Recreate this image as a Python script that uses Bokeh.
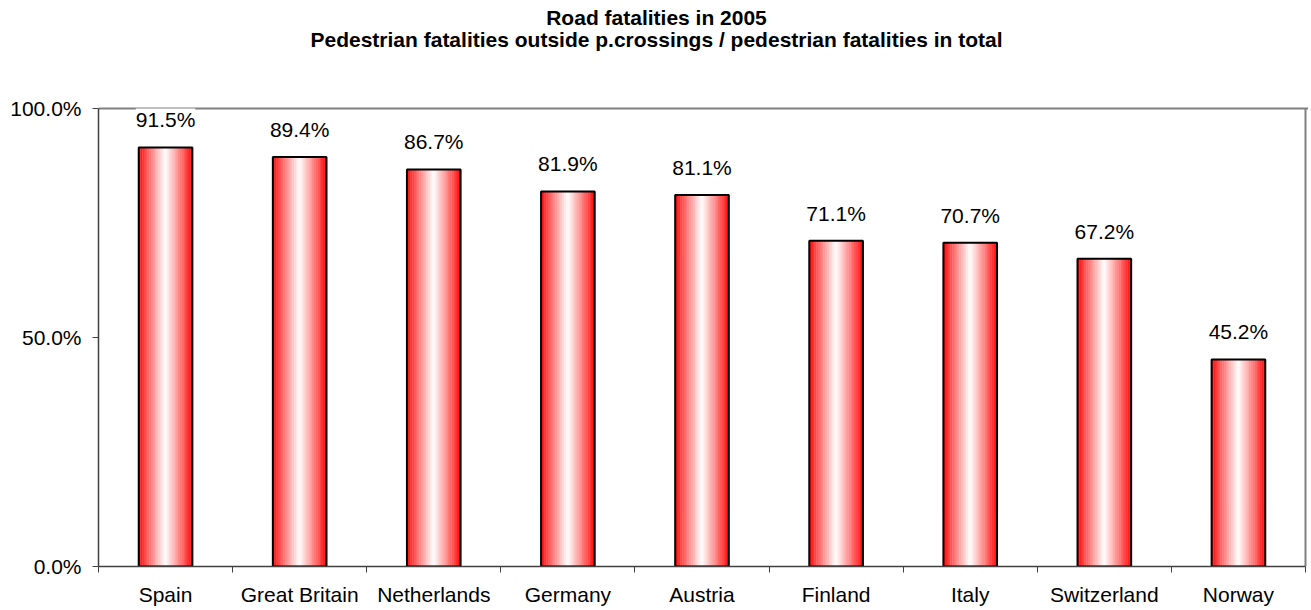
import numpy as np
from bokeh.plotting import figure
from bokeh.core.properties import value
from bokeh.models import ColumnDataSource, FixedTicker, LabelSet, Label, Range1d
from bokeh.embed import file_html
from bokeh.resources import INLINE

# ---- data ----
countries = ["Spain", "Great Britain", "Netherlands", "Germany", "Austria",
             "Finland", "Italy", "Switzerland", "Norway"]
values = [91.5, 89.4, 86.7, 81.9, 81.1, 71.1, 70.7, 67.2, 45.2]
value_labels = [f"{v:.1f}%" for v in values]
y_ticks = [0, 50, 100]
y_tick_labels = ["0.0%", "50.0%", "100.0%"]
title_line1 = "Road fatalities in 2005"
title_line2 = "Pedestrian fatalities outside p.crossings / pedestrian fatalities in total"

FONT = "Liberation Sans"
n = len(countries)
pos = np.arange(1, n + 1)

# geometry (pixels)
LEFT = 98            # y-axis position
AX_BOTTOM = 566      # y = 0
AX_TOP = 108         # y = 100
CELL = (1305 - LEFT) / n
PPU = (AX_BOTTOM - AX_TOP) / 100.0   # pixels per y unit
y_max = AX_BOTTOM / PPU              # frame reaches the top of the page
x_extra = 3 / CELL
FW = int(round(CELL * n + 3))
FH = AX_BOTTOM

p = figure(frame_width=FW, frame_height=FH,
           x_range=Range1d(0.5, n + 0.5 + x_extra), y_range=Range1d(0, y_max),
           output_backend="svg", toolbar_location=None,
           min_border_left=LEFT, min_border_top=0, min_border_right=0,
           min_border_bottom=0, outline_line_color=None,
           background_fill_color="white", border_fill_color="white")

# gridline at top of value axis + right border
p.xgrid.visible = False
p.ygrid.ticker = FixedTicker(ticks=[y_ticks[-1]])
p.ygrid.grid_line_color = "#808080"
p.ygrid.grid_line_width = 2
p.segment(x0=[n + 0.5], y0=[y_ticks[0]], x1=[n + 0.5], y1=[y_ticks[-1]],
          line_color="#808080", line_width=2)

# gradient bars built from vertical stripes
bw = 0.4
N = 30
edges = np.linspace(-bw / 2, bw / 2, N + 1)
centers = (edges[:-1] + edges[1:]) / 2
sw = bw / N
xs, tops, cols = [], [], []
for c in centers:
    t = abs(c) / (bw / 2)
    g = int(round(255 * (1 - t) ** 0.9))
    color = f"#ff{g:02x}{g:02x}"
    for i, v in enumerate(values):
        xs.append(pos[i] + c)
        tops.append(v)
        cols.append(color)
p.vbar(x=xs, top=tops, bottom=0, width=sw * 1.2, fill_color=cols, line_color=None)

src = ColumnDataSource(dict(x=pos, top=values, label=value_labels))
p.vbar(x="x", top="top", bottom=0, width=bw, source=src,
       fill_color=None, line_color="black", line_width=2)

p.add_layout(LabelSet(x="x", y="top", text="label", source=src,
                      text_align="center", text_baseline="alphabetic",
                      y_offset=20, text_font_size=value("21px"),
                      text_font=value(FONT), text_color="black",
                      background_fill_color="white"))

# axes
ax = p.xaxis[0]
ax.ticker = FixedTicker(ticks=[int(x) for x in pos],
                        minor_ticks=list(np.arange(0.5, n + 1, 1.0)))
ax.major_label_overrides = {int(x): c for x, c in zip(pos, countries)}
ax.major_tick_in = 0
ax.major_tick_out = 0
ax.minor_tick_in = 0
ax.minor_tick_out = 6
ax.minor_tick_line_color = "#404040"
ax.axis_line_color = "#404040"
ax.axis_line_width = 1.5
ax.bounds = (0.5, n + 0.5)
ax.major_label_standoff = 10
ax.major_label_text_font = FONT
ax.major_label_text_font_size = "21px"
ax.major_label_text_color = "black"

ay = p.yaxis[0]
ay.ticker = FixedTicker(ticks=y_ticks, minor_ticks=[])
ay.major_label_overrides = {t: l for t, l in zip(y_ticks, y_tick_labels)}
ay.bounds = (y_ticks[0], y_ticks[-1])
ay.major_tick_in = 0
ay.major_tick_out = 6
ay.minor_tick_out = 0
ay.major_tick_line_color = "#404040"
ay.axis_line_color = "#404040"
ay.axis_line_width = 1.5
ay.major_label_standoff = 11
ay.major_label_text_font = FONT
ay.major_label_text_font_size = "21px"
ay.major_label_text_color = "black"

# titles, centred on the whole chart width
x_center = 0.5 + (656 - LEFT) / CELL
for txt, py in ((title_line1, 17), (title_line2, 39)):
    p.add_layout(Label(x=x_center, y=(AX_BOTTOM - py) / PPU, text=txt,
                       text_align="center", text_baseline="middle",
                       text_font=FONT, text_font_size="21px",
                       text_font_style="bold", text_color="black"))

open("out.html", "w").write(file_html(p, INLINE))
